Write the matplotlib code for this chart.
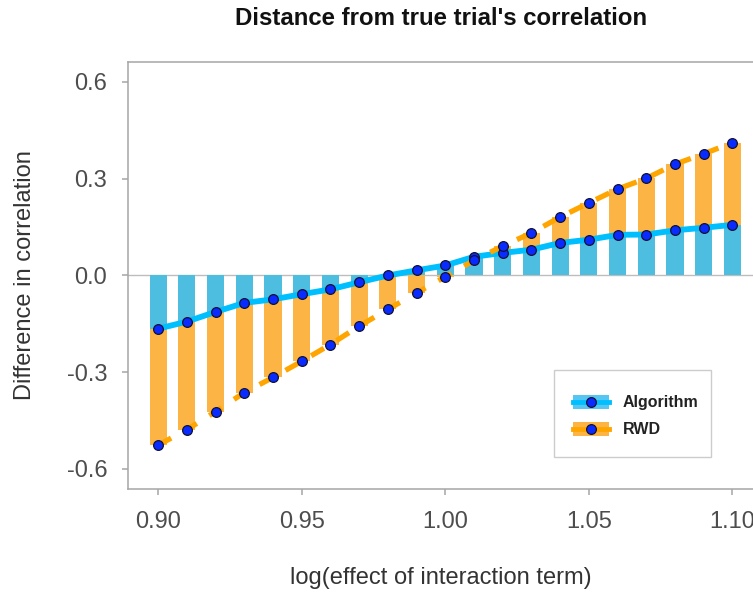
import matplotlib
matplotlib.use("Agg")
import matplotlib.pyplot as plt
from matplotlib.patches import Patch, Rectangle
from matplotlib.lines import Line2D
from matplotlib.legend_handler import HandlerBase

# ---- data ----
x_vals = [0.90, 0.91, 0.92, 0.93, 0.94, 0.95, 0.96, 0.97, 0.98, 0.99, 1.00,
          1.01, 1.02, 1.03, 1.04, 1.05, 1.06, 1.07, 1.08, 1.09, 1.10]
algorithm = [-0.165, -0.143, -0.113, -0.085, -0.074, -0.058, -0.043, -0.021, 0.000, 0.016, 0.031,
             0.058, 0.070, 0.080, 0.101, 0.111, 0.126, 0.127, 0.140, 0.148, 0.157]
rwd = [-0.526, -0.478, -0.422, -0.363, -0.316, -0.266, -0.214, -0.157, -0.105, -0.054, -0.004,
       0.047, 0.091, 0.132, 0.181, 0.225, 0.268, 0.301, 0.345, 0.377, 0.412]
x_ticks = [0.90, 0.95, 1.00, 1.05, 1.10]
x_ticklabels = ["0.90", "0.95", "1.00", "1.05", "1.10"]
y_ticks = [-0.6, -0.3, 0.0, 0.3, 0.6]
y_ticklabels = ["-0.6", "-0.3", "0.0", "0.3", "0.6"]
series_names = ["Algorithm", "RWD"]

# ---- style ----
plt.rcParams['font.family'] = ['Liberation Sans', 'DejaVu Sans']
bar_blue = "#4dbde0"
bar_orange = "#fcb545"
line_blue = "#00bfff"
line_orange = "#ffa500"
marker_fc = "#0a2bff"
marker_ec = "#111133"
spine_col = "#a6a6a6"
text_col = "#4d4d4d"


class KeyHandler(HandlerBase):
    def __init__(self, fill, line):
        super().__init__()
        self.fill = fill
        self.line = line

    def create_artists(self, legend, orig_handle, xdescent, ydescent, width, height, fontsize, trans):
        rect = Rectangle((-xdescent, -ydescent), width, height, facecolor=self.fill,
                         edgecolor='none', transform=trans)
        ymid = -ydescent + height / 2
        ln = Line2D([-xdescent, -xdescent + width], [ymid, ymid], color=self.line, lw=3.5,
                    transform=trans)
        mk = Line2D([-xdescent + width / 2], [ymid], ls='none', marker='o', ms=7,
                    mfc=marker_fc, mec=marker_ec, mew=0.9, transform=trans)
        return [rect, ln, mk]


fig = plt.figure(figsize=(7.53, 5.92), dpi=100)
ax = fig.add_axes([0.170, 0.174, 0.832, 0.7213])

bw = 0.006
ax.axhline(0, color="#bdbdbd", lw=1.0, zorder=0.5)
ax.bar(x_vals, rwd, width=bw, color=bar_orange, zorder=1)
ax.bar(x_vals, algorithm, width=bw, color=bar_blue, zorder=1.1)

ax.plot(x_vals, algorithm, color=line_blue, lw=4.2, zorder=3, solid_capstyle='butt')
ax.plot(x_vals, rwd, color=line_orange, lw=3.8, zorder=3.2, dashes=(2.8, 2.8))
ax.plot(x_vals, algorithm, ls='none', marker='o', ms=7, mfc=marker_fc, mec=marker_ec, mew=0.9, zorder=4)
ax.plot(x_vals, rwd, ls='none', marker='o', ms=7, mfc=marker_fc, mec=marker_ec, mew=0.9, zorder=4)

ax.set_xlim(0.8895, 1.1077)
ax.set_ylim(-0.662, 0.662)
ax.set_xticks(x_ticks)
ax.set_xticklabels(x_ticklabels)
ax.set_yticks(y_ticks)
ax.set_yticklabels(y_ticklabels)
ax.tick_params(axis='both', colors=spine_col, labelcolor=text_col, labelsize=17, length=4, width=1.1, direction='out')
ax.tick_params(axis='y', pad=11)
ax.tick_params(axis='x', pad=12)

for side in ['left', 'top', 'bottom']:
    ax.spines[side].set_color(spine_col)
    ax.spines[side].set_linewidth(1.1)
ax.spines['right'].set_visible(False)

ax.set_xlabel("log(effect of interaction term)", fontsize=17, color="#333333", labelpad=24)
ax.set_ylabel("Difference in correlation", fontsize=17, color="#333333", labelpad=22)
fig.text(0.586, 0.969, "Distance from true trial's correlation", fontsize=17.3, fontweight='bold',
         ha='center', va='center', color='#111111')

# legend box (frame drawn separately to match asymmetric padding)
frame = Rectangle((0.680, 0.0749), 0.2512, 0.2038, transform=ax.transAxes, facecolor='white',
                  edgecolor='#cccccc', lw=1.0, zorder=5)
ax.add_patch(frame)

h_alg = Patch(facecolor="#55c6f2")
h_rwd = Patch(facecolor=bar_orange)
leg = ax.legend([h_alg, h_rwd], series_names,
                handler_map={h_alg: KeyHandler("#55c6f2", line_blue),
                             h_rwd: KeyHandler(bar_orange, line_orange)},
                loc='center', bbox_to_anchor=(0.8104, 0.171), frameon=False,
                borderpad=0, handlelength=2.25, handleheight=1.05,
                labelspacing=0.7, handletextpad=0.9, borderaxespad=0,
                prop={'size': 11.5, 'weight': 'bold'})
leg.set_zorder(6)
for t in leg.get_texts():
    t.set_color('#222222')

fig.savefig("out.png", dpi=100)
